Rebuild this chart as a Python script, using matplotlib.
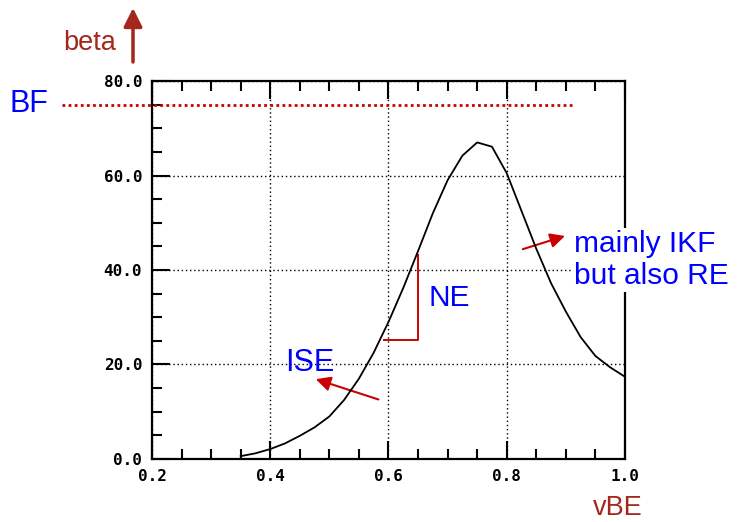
import matplotlib
matplotlib.use("Agg")
import matplotlib.pyplot as plt
from matplotlib.ticker import MultipleLocator, FormatStrFormatter
import numpy as np

# beta vs vBE
vbe = [0.35, 0.375, 0.4, 0.425, 0.45, 0.475, 0.5, 0.525, 0.55, 0.575,
       0.6, 0.625, 0.65, 0.675, 0.7, 0.725, 0.75, 0.775, 0.8, 0.825,
       0.85, 0.875, 0.9, 0.925, 0.95, 0.975, 1.0]
beta = [0.6, 1.2, 2.1, 3.3, 4.9, 6.7, 9.0, 12.5, 17.0, 22.5,
        29.0, 36.2, 44.0, 52.0, 59.0, 64.2, 67.0, 66.1, 60.5, 52.5,
        44.5, 37.2, 31.2, 25.8, 21.8, 19.4, 17.4]
bf_level = 75.0

blue = "#0000ff"
red = "#cc0000"
brown = "#a3271b"

plt.rcParams['font.family'] = ['Liberation Sans', 'DejaVu Sans']

fig = plt.figure(figsize=(7.37, 5.22), dpi=100)
ax = fig.add_axes([0.2062, 0.1207, 0.6418, 0.7241])

ax.plot(vbe, beta, color="black", lw=1.3, zorder=4)

ax.set_xlim(0.2, 1.0)
ax.set_ylim(0, 80)
ax.xaxis.set_major_locator(MultipleLocator(0.2))
ax.xaxis.set_minor_locator(MultipleLocator(0.05))
ax.yaxis.set_major_locator(MultipleLocator(20))
ax.yaxis.set_minor_locator(MultipleLocator(5))
ax.xaxis.set_major_formatter(FormatStrFormatter("%.1f"))
ax.yaxis.set_major_formatter(FormatStrFormatter("%.1f"))

ax.tick_params(which="both", direction="in", top=True, right=False, width=1.5)
ax.tick_params(which="major", length=13)
ax.tick_params(which="minor", length=7)
ax.tick_params(axis="y", pad=7)
ax.tick_params(axis="x", pad=7)
for lab in ax.get_xticklabels() + ax.get_yticklabels():
    lab.set_family("DejaVu Sans Mono")
    lab.set_fontweight("bold")
    lab.set_fontsize(11.5)

for sp in ax.spines.values():
    sp.set_linewidth(1.6)

ax.grid(True, which="major", color="black", linestyle=(0, (1, 2)), lw=1)

# BF dotted level
ax.plot([0.048, 0.910], [bf_level, bf_level], color=red,
        linestyle=(0, (1, 1.2)), lw=2, clip_on=False, zorder=4)
fig.text(29 / 737, 1 - 104 / 522, "BF", color=blue, fontsize=22,
         ha="center", va="center")

# NE bracket
ax.plot([0.593, 0.6494, 0.6494], [25.2, 25.2, 43.2], color=red, lw=1.4, zorder=3)
ax.text(0.667, 32.4, "NE", color=blue, fontsize=21.5, ha="left", va="baseline")

# ISE
ax.text(0.425, 18.7, "ISE", color=blue, fontsize=22, ha="left", va="baseline")
ax.annotate("", xy=(0.477, 16.9), xytext=(0.583, 12.6),
            arrowprops=dict(arrowstyle="-|>", color=red, lw=1.5,
                            mutation_scale=22, shrinkA=0, shrinkB=0))

# IKF / RE
ax.annotate("", xy=(0.8985, 47.2), xytext=(0.827, 44.4),
            arrowprops=dict(arrowstyle="-|>", color=red, lw=1.5,
                            mutation_scale=22, shrinkA=0, shrinkB=0))
fig.text(574 / 737, 1 - 260 / 522, "mainly IKF\nbut also RE", color=blue,
         fontsize=21.5, ha="left", va="center", linespacing=1.2,
         bbox=dict(facecolor="white", edgecolor="none", pad=1), zorder=5)

# axis names with arrow
fig.text(90 / 737, 1 - 43 / 522, "beta", color=brown, fontsize=19.5,
         ha="center", va="center")
fig.add_artist(matplotlib.patches.FancyArrowPatch(
    (133 / 737, 1 - 62 / 522), (133 / 737, 1 - 8 / 522),
    transform=fig.transFigure, arrowstyle="-|>", color=brown, lw=2.5,
    mutation_scale=28, shrinkA=0, shrinkB=0))
fig.text(618 / 737, 1 - 508 / 522, "vBE", color=brown, fontsize=19.5,
         ha="center", va="center")

fig.savefig("out.png", dpi=100)
